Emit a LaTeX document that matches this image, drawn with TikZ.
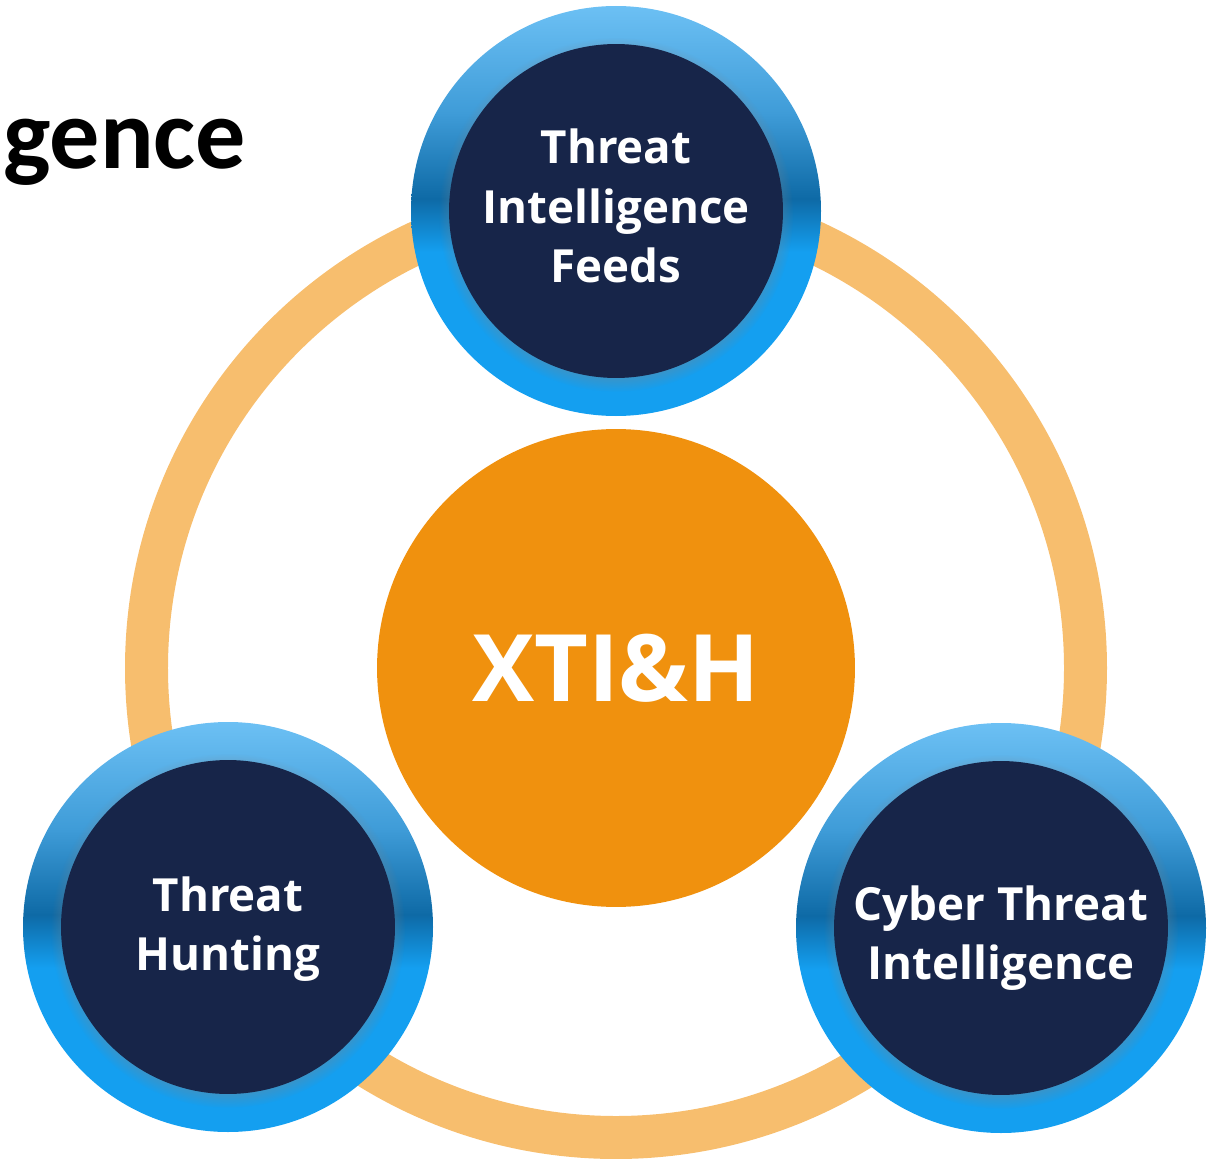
\documentclass[tikz,border=0pt]{standalone}
\usepackage{fontspec}
\setmainfont{Open Sans}
\newfontfamily\titlefont{Carlito}
\usepackage{xcolor}
\usetikzlibrary{shadows}

\definecolor{ringorange}{HTML}{F7BE6E}
\definecolor{huborange}{HTML}{F0910E}
\definecolor{navy}{HTML}{172549}
\definecolor{blueA}{HTML}{149FF0}
\definecolor{blueB}{HTML}{0E6AA6}
\definecolor{blueC}{HTML}{3F9CD8}
\definecolor{blueD}{HTML}{6CC0F4}

\pgfdeclareverticalshading{bluering}{100bp}{color(0bp)=(blueA); color(25bp)=(blueA); color(45bp)=(blueA); color(51.5bp)=(blueB); color(62bp)=(blueC); color(75bp)=(blueD); color(100bp)=(blueD)}

\tikzset{
  topic/.style={circle, fill=navy, minimum size=6.68cm, inner sep=0pt,
    circular drop shadow={shadow xshift=0pt, shadow yshift=-2pt, shadow scale=1.06, opacity=0.6}},
  topictext/.style={align=center, inner sep=0pt, text=white, font=\bfseries\fontsize{26}{34}\selectfont},
  hub/.style={circle, fill=huborange, minimum size=9.56cm, inner sep=0pt,
    text=white, font=\bfseries\fontsize{53}{60}\selectfont},
  blueedge/.style={shading=bluering}
}

\begin{document}
\begin{tikzpicture}[x=0.02cm, y=-0.02cm]
\useasboundingbox (0,0) rectangle (1218,1159);

% big ring behind everything
\draw[ringorange, line width=0.86cm] (616,668) circle (469.5);

% centre
\node[hub] (xtih) at (616,668) {XTI\&H};

% three topics
\shade[blueedge] (616,211) circle (205);
\node[topic] (feeds) at (616,211) {};
\node[topictext] (feedstext) at ([yshift=0.1cm]feeds.center) {Threat\\Intelligence\\Feeds};

\shade[blueedge] (228,927) circle (205);
\node[topic] (hunting) at (228,927) {};
\node[topictext] (huntingtext) at ([yshift=-0.04cm]hunting.center) {Threat\\Hunting};

\shade[blueedge] (1001,928) circle (205);
\node[topic] (cti) at (1001,928) {};
\node[topictext] (ctitext) at ([yshift=-0.2cm]cti.center) {Cyber Threat\\Intelligence};

% cut-off heading
\node[anchor=base west, inner sep=0pt, font=\titlefont\bfseries\fontsize{57}{60}\selectfont] (heading) at (3,169) {gence};
\end{tikzpicture}
\end{document}
